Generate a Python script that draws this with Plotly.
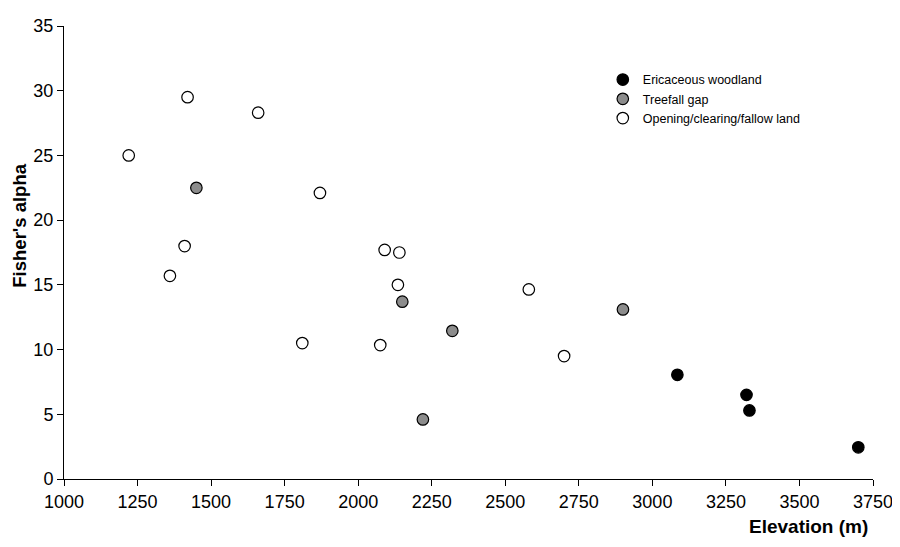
import plotly.graph_objects as go

# Data
eric_x = [3085, 3320, 3330, 3700]
eric_y = [8.05, 6.5, 5.3, 2.45]

gap_x = [1450, 2150, 2320, 2220, 2900]
gap_y = [22.5, 13.7, 11.45, 4.6, 13.1]

open_x = [1220, 1420, 1660, 1870, 1410, 1360, 2090, 2140, 2135, 1810, 2075, 2580, 2700]
open_y = [25.0, 29.5, 28.3, 22.1, 18.0, 15.7, 17.7, 17.5, 15.0, 10.5, 10.35, 14.65, 9.5]

x_ticks = [1000, 1250, 1500, 1750, 2000, 2250, 2500, 2750, 3000, 3250, 3500, 3750]
y_ticks = [0, 5, 10, 15, 20, 25, 30, 35]

FONT = "Liberation Sans, Arial, sans-serif"

fig = go.Figure()
series = [
    ("Ericaceous woodland", eric_x, eric_y, "black"),
    ("Treefall gap", gap_x, gap_y, "#8c8c8c"),
    ("Opening/clearing/fallow land", open_x, open_y, "white"),
]
for name, xs, ys, col in series:
    fig.add_trace(go.Scatter(
        x=xs, y=ys, mode="markers", name=name,
        marker=dict(size=11.5, color=col, line=dict(color="black", width=1.2)),
    ))

fig.update_layout(
    width=900, height=547,
    margin=dict(l=56, r=35, t=8, b=76),
    paper_bgcolor="white", plot_bgcolor="white",
    font=dict(family=FONT, color="black"),
    showlegend=True,
    legend=dict(x=0.666, y=0.914, xanchor="left", yanchor="top",
                font=dict(size=12.5, family=FONT), bgcolor="rgba(0,0,0,0)",
                itemwidth=30, tracegroupgap=0),
    xaxis=dict(range=[1000, 3750], tickvals=x_ticks, ticks="outside", ticklen=6,
               showline=True, linecolor="black", linewidth=1, showgrid=False,
               zeroline=False, tickfont=dict(size=18), tickcolor="black",
               ticklabeloverflow="allow"),
    yaxis=dict(range=[0, 35], tickvals=y_ticks, ticks="outside", ticklen=6,
               showline=True, linecolor="black", linewidth=1, showgrid=False,
               zeroline=False, tickfont=dict(size=18), tickcolor="black",
               ticklabeloverflow="allow"),
    annotations=[
        dict(text="<b>Elevation (m)</b>", xref="paper", yref="paper",
             x=0.996, y=-0.104, xanchor="right", yanchor="middle",
             showarrow=False, font=dict(size=19, family=FONT)),
        dict(text="<b>Fisher's alpha</b>", xref="paper", yref="paper",
             x=-0.0545, y=0.559, xanchor="center", yanchor="middle",
             textangle=-90, showarrow=False, font=dict(size=18.5, family=FONT)),
    ],
)

fig.write_html("out.html")
